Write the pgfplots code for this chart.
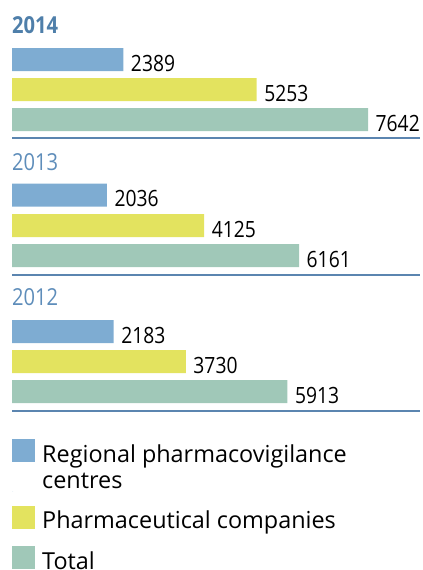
\documentclass[border=0pt]{standalone}
\usepackage{pgfplots}
\pgfplotsset{compat=1.18}
\usepackage{fontspec}
\setmainfont{Open Sans}
\newfontfamily\numfont[FakeStretch=0.86]{Open Sans}
\definecolor{cBlue}{HTML}{7EACD2}
\definecolor{cYellow}{HTML}{E3E35F}
\definecolor{cTeal}{HTML}{A0C8B8}
\definecolor{cTitle}{HTML}{4F7FAA}
\definecolor{cTitleL}{HTML}{5E8DBA}
\definecolor{cLine}{HTML}{5B85B0}
\begin{document}
\begin{tikzpicture}
\begin{axis}[
  width=422pt, height=570pt, scale only axis,
  xmin=-257.6, xmax=8801.2, ymin=0, ymax=570,
  y dir=reverse, enlargelimits=false,
  hide axis, clip=false,
  /pgf/number format/assume math mode=true,
  /pgf/number format/set thousands separator={},
  xbar, bar width=23, bar shift=0pt,
  nodes near coords,
  every node near coord/.append style={anchor=base west, inner sep=0pt, xshift=7.5pt, yshift=-11.5pt, font=\numfont\fontsize{22.4}{26}\selectfont, text=black},
  legend style={at={(axis cs:0,439)}, anchor=north west, draw=none, fill=none, inner sep=0pt, row sep=14pt,
    cells={anchor=base west, align=left, inner sep=0pt, text depth=0pt, font=\fontsize{23.4}{26}\selectfont},
    /tikz/every odd column/.append style={column sep=5pt}},
]
\addplot[fill=cBlue, draw=none,
  legend image code/.code={\fill[cBlue] (0pt,26pt) rectangle (23pt,49pt); \path (0pt,-3pt) -- (1pt,-3pt);}]
  coordinates {(2389,59.5) (2036,195) (2183,331.5)};
\addlegendentry{Regional pharmacovigilance\\centres}
\addplot[fill=cYellow, draw=none,
  legend image code/.code={\fill[cYellow] (0pt,0pt) rectangle (23pt,23pt);}]
  coordinates {(5253,89.5) (4125,225.5) (3730,361.5)};
\addlegendentry{Pharmaceutical companies}
\addplot[fill=cTeal, draw=none,
  legend image code/.code={\fill[cTeal] (0pt,0pt) rectangle (23pt,23pt);}]
  coordinates {(7642,119.5) (6161,255.5) (5913,391.5)};
\addlegendentry{Total}
\node[anchor=base west, inner sep=0pt, text=cTitle, font=\numfont\fontsize{23.4}{26}\selectfont\bfseries] at (axis cs:0,33) {2014};
\node[anchor=base west, inner sep=0pt, text=cTitleL, font=\numfont\fontsize{23.4}{26}\selectfont] at (axis cs:0,170) {2013};
\node[anchor=base west, inner sep=0pt, text=cTitleL, font=\numfont\fontsize{23.4}{26}\selectfont] at (axis cs:0,305) {2012};
\draw[cLine, line width=1.5pt] (axis cs:0,138) -- (axis cs:8758,138);
\draw[cLine, line width=1.5pt] (axis cs:0,275) -- (axis cs:8758,275);
\draw[cLine, line width=1.5pt] (axis cs:0,411) -- (axis cs:8758,411);
\end{axis}
\pgfresetboundingbox
\path[use as bounding box] (current axis.south west) rectangle (current axis.north east);
\end{tikzpicture}
\end{document}
